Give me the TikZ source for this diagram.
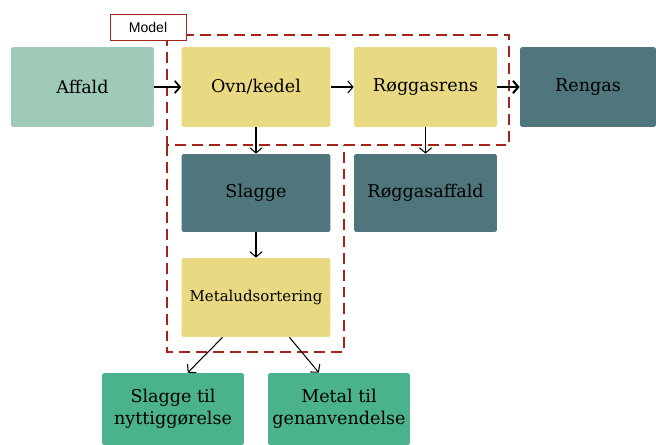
\documentclass[tikz,border=0pt]{standalone}
\usepackage{fontspec}
\setmainfont{DejaVu Serif}
\newfontfamily\labelfont{Liberation Sans}
\usepackage{xcolor}
\usetikzlibrary{arrows.meta}
\usetikzlibrary{math}

\definecolor{affaldgreen}{HTML}{A0CAB8}
\definecolor{ovnyellow}{HTML}{E8D982}
\definecolor{darkteal}{HTML}{4F767C}
\definecolor{outgreen}{HTML}{4AB38C}
\definecolor{modelred}{HTML}{A3241B}

\begin{document}
\begin{tikzpicture}[x=0.02cm, y=-0.02cm,
  box/.style={rounded corners=1pt, inner sep=1pt, align=center, text=black,
    font=\fontsize{10}{12.5}\selectfont},
  flow/.style={-{Straight Barb[length=3pt,width=7pt]}, line width=0.6pt},
  modelbox/.style={draw=modelred, line width=1.1pt, dash pattern=on 6.2pt off 3.4pt}]
\tikzmath{
\ya=87;
\yb=193;
\yc=297.5;
\yd=409;
}
\useasboundingbox (0,0) rectangle (656,445);

\draw[modelbox] (167,35) rectangle (509,145);
\draw[modelbox] (167,145) -- (167,352) -- (344,352) -- (344,145);

\node[box, fill=affaldgreen, minimum width=2.86cm, minimum height=1.6cm] (affald) at (82.5,\ya) {Affald};
\node[box, fill=ovnyellow, minimum width=2.98cm, minimum height=1.6cm] (ovn) at (256,\ya) {Ovn/kedel};
\node[box, fill=ovnyellow, minimum width=2.86cm, minimum height=1.6cm] (rens) at (425.5,\ya) {Røggasrens};
\node[box, fill=darkteal, minimum width=2.72cm, minimum height=1.6cm] (rengas) at (588,\ya) {Rengas};

\node[box, fill=darkteal, minimum width=2.98cm, minimum height=1.56cm] (slagge) at (256,\yb) {Slagge};
\node[box, fill=darkteal, minimum width=2.86cm, minimum height=1.56cm] (rogaffald) at (425.5,\yb) {Røggasaffald};
\node[box, fill=ovnyellow, minimum width=2.98cm, minimum height=1.58cm,
  font=\fontsize{8.5}{10}\selectfont] (metal) at (256,\yc) {Metaludsortering};

\node[box, fill=outgreen, minimum width=2.84cm, minimum height=1.44cm] (nytte) at (173,\yd) {Slagge til\\nyttiggørelse};
\node[box, fill=outgreen, minimum width=2.84cm, minimum height=1.44cm] (genbrug) at (339,\yd) {Metal til\\genanvendelse};

\node[draw=modelred, fill=white, inner sep=0pt, minimum width=1.52cm, minimum height=0.52cm,
  font=\labelfont\fontsize{8}{9}\selectfont] (model) at (148,27) {Model};

\draw[flow, line width=1pt] (affald) -- (ovn);
\draw[flow] (ovn) -- (rens);
\draw[flow, line width=1.2pt] (rens) -- (rengas);
\draw[flow] (ovn) -- (slagge);
\draw[flow] (rens) -- (rogaffald);
\draw[flow] (slagge) -- (metal);
\draw[flow] (metal.-130) -- (nytte.68);
\draw[flow] (metal.-50) -- (genbrug.119);
\end{tikzpicture}
\end{document}
